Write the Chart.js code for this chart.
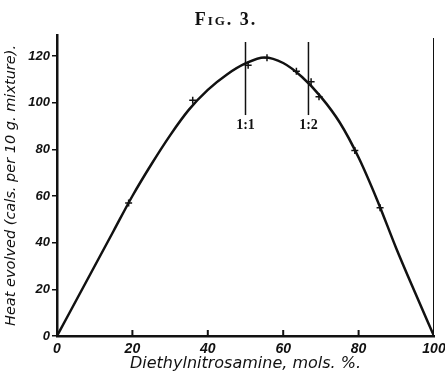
<!DOCTYPE html>
<html>
<head>
<meta charset="utf-8">
<script src="https://cdn.jsdelivr.net/npm/chart.js@4/dist/chart.umd.min.js"></script>
<style>
  html, body { margin: 0; padding: 0; background: #fff; }
  #wrap { width: 445px; height: 373px; }
</style>
</head>
<body>
<div id="wrap"><canvas id="fig"></canvas></div>
<script>
// smooth curve
const curveX = [0, 5, 10, 15, 20, 25, 30, 35, 40, 45, 50, 55, 60, 65, 70, 75, 80, 85, 90, 95, 100];
const curveY = [0, 15, 30, 45, 60, 73.5, 86, 97, 105.5, 112, 116.8, 119.4, 117, 111, 102.5, 91.5, 76.5, 58, 37.5, 18.5, 0];

// measured points (small crosses)
const pointX = [19, 36, 50.7, 55.7, 63.5, 67.4, 69.5, 79, 85.7];
const pointY = [57, 101, 116, 119.3, 113.5, 109, 102.5, 79.5, 55];

// ratio marker lines
const ratioLabels = ['1:1', '1:2'];
const ratioX = [50, 66.7];
const ratioTop = 126;
const ratioBottom = 94.7;
const ratioLabelY = 90.4;

const xTicks = [0, 20, 40, 60, 80, 100];
const yTicks = [0, 20, 40, 60, 80, 100, 120];

const ink = '#111';

const toXY = (xs, ys) => xs.map((x, i) => ({ x: x, y: ys[i] }));

// datasets for the ratio lines
const ratioSets = ratioX.map(x => ({
  type: 'line',
  data: [{ x: x, y: ratioBottom }, { x: x, y: ratioTop }],
  borderColor: ink,
  borderWidth: 1.5,
  pointRadius: 0
}));

// heading, inner tick marks on the x axis and the ratio labels
const extras = {
  id: 'extras',
  afterDraw(chart) {
    const ctx = chart.ctx;
    const xs = chart.scales.x, ys = chart.scales.y;
    ctx.save();
    ctx.fillStyle = ink;
    ctx.textAlign = 'center';
    ctx.textBaseline = 'middle';
    ctx.font = 'bold 18px "Liberation Serif"';
    ctx.fontVariantCaps = 'small-caps';
    ctx.letterSpacing = '2px';
    ctx.fillText('Fig. 3.', 226, 20);
    ctx.fontVariantCaps = 'normal';
    ctx.letterSpacing = '0px';

    ctx.strokeStyle = ink;
    ctx.lineWidth = 2;
    xTicks.slice(1, -1).forEach(v => {
      const px = xs.getPixelForValue(v);
      ctx.beginPath();
      ctx.moveTo(px, ys.bottom + 1);
      ctx.lineTo(px, ys.bottom - 6);
      ctx.stroke();
    });
    ctx.font = 'bold 14px "Liberation Serif"';
    ratioLabels.forEach((t, i) => {
      ctx.fillText(t, xs.getPixelForValue(ratioX[i]), ys.getPixelForValue(ratioLabelY));
    });
    ctx.restore();
  }
};

new Chart(document.getElementById('fig'), {
  type: 'line',
  data: {
    datasets: [
      {
        data: toXY(curveX, curveY),
        borderColor: ink,
        borderWidth: 2.5,
        cubicInterpolationMode: 'monotone',
        pointRadius: 0
      },
      {
        type: 'scatter',
        data: toXY(pointX, pointY),
        pointStyle: 'cross',
        pointRadius: 3.5,
        borderColor: ink,
        borderWidth: 1.5
      },
      ...ratioSets,
      {
        data: [{ x: 100, y: 0 }, { x: 100, y: 127.7 }],
        borderColor: ink,
        borderWidth: 2,
        pointRadius: 0
      }
    ]
  },
  options: {
    responsive: true,
    maintainAspectRatio: false,
    animation: false,
    layout: { padding: { top: 35, right: 11, left: 0, bottom: 0 } },
    plugins: {
      legend: { display: false },
      tooltip: { enabled: false }
    },
    scales: {
      x: {
        type: 'linear',
        min: 0,
        max: 100,
        afterBuildTicks: s => { s.ticks = xTicks.map(v => ({ value: v })); },
        afterFit: s => { s.height = 37; s.paddingLeft = 0; s.paddingRight = 0; },
        grid: { display: false, drawTicks: false },
        border: { display: true, color: ink, width: 2.5 },
        ticks: {
          color: ink,
          padding: 5,
          maxRotation: 0,
          font: { family: '"Liberation Sans"', size: 14, style: 'italic', weight: 'bold' }
        },
        title: {
          display: true,
          text: 'Diethylnitrosamine, mols. %.',
          color: ink,
          padding: { top: 0, bottom: 0 },
          font: { family: '"DejaVu Sans"', size: 16, style: 'italic' }
        }
      },
      y: {
        min: 0,
        max: 129,
        afterBuildTicks: s => { s.ticks = yTicks.map(v => ({ value: v })); },
        afterFit: s => { s.width = 57; },
        grid: { drawOnChartArea: false, tickLength: 5, color: ink, lineWidth: 1.5 },
        border: { display: true, color: ink, width: 2.5 },
        ticks: {
          color: ink,
          padding: 2,
          font: { family: '"Liberation Sans"', size: 13, style: 'italic', weight: 'bold' }
        },
        title: {
          display: true,
          text: 'Heat evolved (cals. per 10 g. mixture).',
          color: ink,
          padding: { top: 3, bottom: 0 },
          font: { family: '"DejaVu Sans"', size: 14.5, style: 'italic' }
        }
      }
    }
  },
  plugins: [extras]
});
</script>
</body>
</html>
